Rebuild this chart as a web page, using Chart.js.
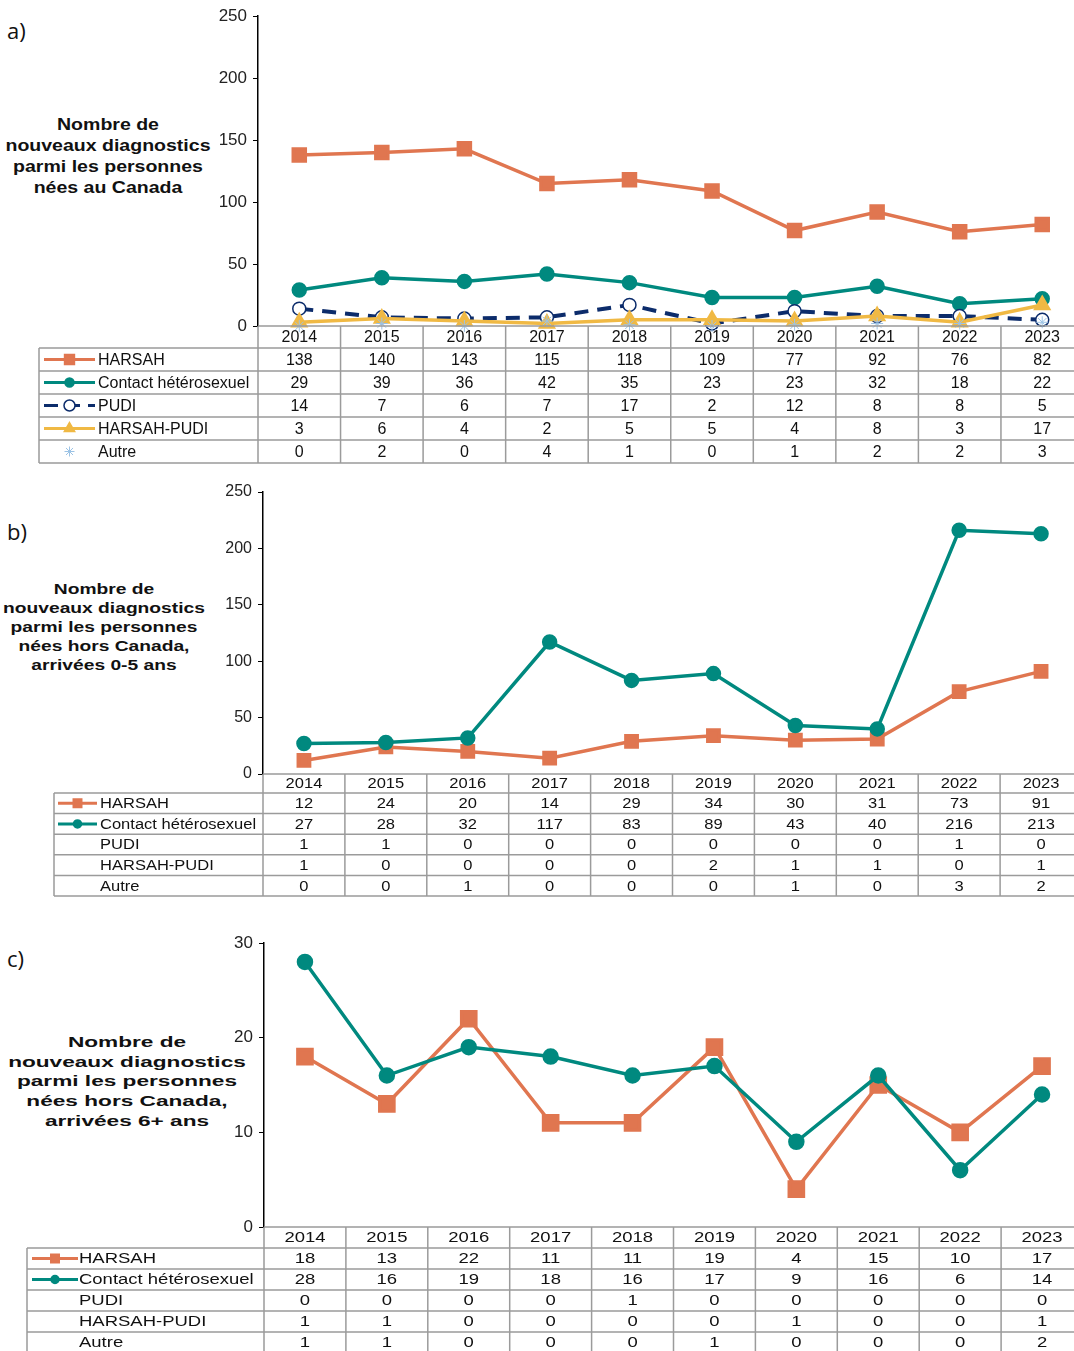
<!DOCTYPE html>
<html>
<head>
<meta charset="utf-8">
<script src="https://cdn.jsdelivr.net/npm/chart.js@4.4.1/dist/chart.umd.min.js"></script>
<style>
html, body { margin: 0; padding: 0; background: #fff; overflow: hidden; width: 1074px; height: 1351px; }
canvas { position: absolute; left: 0; }
.lettre { position: absolute; left: 7px; font: 22px "Open Sans", sans-serif; line-height: 30px; color: #111; }
.titre { position: absolute; left: 0; font-family: "Liberation Sans", Arial, sans-serif; font-weight: bold; text-align: center; white-space: nowrap; color: #111; }
</style>
</head>
<body>
<div class="lettre" style="top:15px">a)</div>
<div class="lettre" style="top:516px">b)</div>
<div class="lettre" style="top:943px">c)</div>

<div class="titre" style="top:114px;width:216px;font-size:16px;line-height:21px;transform:scaleX(1.22)">Nombre de<br>nouveaux diagnostics<br>parmi les personnes<br>nées au Canada</div>
<div class="titre" style="top:579px;width:208px;font-size:15.5px;line-height:19px;transform:scaleX(1.24)">Nombre de<br>nouveaux diagnostics<br>parmi les personnes<br>nées hors Canada,<br>arrivées 0-5 ans</div>
<div class="titre" style="top:1032px;width:254px;font-size:15.5px;line-height:19.7px;transform:scaleX(1.46)">Nombre de<br>nouveaux diagnostics<br>parmi les personnes<br>nées hors Canada,<br>arrivées 6+ ans</div>

<canvas id="grapheA" width="1090" height="475" style="top:0px"></canvas>
<canvas id="grapheB" width="1090" height="430" style="top:475px"></canvas>
<canvas id="grapheC" width="1090" height="446" style="top:905px"></canvas>

<script>
// Données
const annees = ['2014', '2015', '2016', '2017', '2018', '2019', '2020', '2021', '2022', '2023'];
const noms = ['HARSAH', 'Contact hétérosexuel', 'PUDI', 'HARSAH-PUDI', 'Autre'];

// a) nées au Canada
const canadaHarsah = [138, 140, 143, 115, 118, 109, 77, 92, 76, 82];
const canadaContact = [29, 39, 36, 42, 35, 23, 23, 32, 18, 22];
const canadaPudi = [14, 7, 6, 7, 17, 2, 12, 8, 8, 5];
const canadaHarsahPudi = [3, 6, 4, 2, 5, 5, 4, 8, 3, 17];
const canadaAutre = [0, 2, 0, 4, 1, 0, 1, 2, 2, 3];

// b) nées hors Canada, arrivées 0-5 ans
const recentHarsah = [12, 24, 20, 14, 29, 34, 30, 31, 73, 91];
const recentContact = [27, 28, 32, 117, 83, 89, 43, 40, 216, 213];
const recentPudi = [1, 1, 0, 0, 0, 0, 0, 0, 1, 0];
const recentHarsahPudi = [1, 0, 0, 0, 0, 2, 1, 1, 0, 1];
const recentAutre = [0, 0, 1, 0, 0, 0, 1, 0, 3, 2];

// c) nées hors Canada, arrivées 6+ ans
const ancienHarsah = [18, 13, 22, 11, 11, 19, 4, 15, 10, 17];
const ancienContact = [28, 16, 19, 18, 16, 17, 9, 16, 6, 14];
const ancienPudi = [0, 0, 0, 0, 1, 0, 0, 0, 0, 0];
const ancienHarsahPudi = [1, 1, 0, 0, 0, 0, 1, 0, 0, 1];
const ancienAutre = [1, 1, 0, 0, 0, 1, 0, 0, 0, 2];

const orange = '#E07650';
const sarcelle = '#00897F';
const marine = '#0C2C6B';
const jaune = '#F0B944';
const bleuPale = '#9CC3E5';

Chart.defaults.font.family = '"Liberation Sans", Arial, sans-serif';
Chart.defaults.color = '#222';

function dessinerSymbole(ctx, s, x0, x1, y) {
    ctx.save();
    ctx.strokeStyle = s.couleur;
    ctx.lineWidth = 3;
    if (!s.sansLigne) {
        if (s.tirets) ctx.setLineDash(s.tirets);
        ctx.beginPath();
        ctx.moveTo(x0, y);
        ctx.lineTo(x1, y);
        ctx.stroke();
        ctx.setLineDash([]);
    }
    ctx.fillStyle = s.remplissage || s.couleur;
    ctx.lineWidth = s.sansLigne ? 1 : 1.5;
    Chart.helpers.drawPoint(ctx, { pointStyle: s.forme, radius: s.rayon, rotation: 0, borderWidth: 1.5 }, (x0 + x1) / 2, y);
    ctx.restore();
}

// Tableau de données sous le graphique, aligné sur l'axe des x
function pluginTableau(t) {
    return {
        id: 'tableau',
        afterDraw(chart) {
            const { ctx, chartArea: ca } = chart;
            const x = chart.scales.x;
            const n = chart.data.labels.length;
            const pas = x.getPixelForValue(1) - x.getPixelForValue(0);
            const bord = i => x.getPixelForValue(i) - pas / 2;
            const droite = bord(n);
            const y0 = ca.bottom;
            const y1 = y0 + t.entete;
            const yFin = y1 + t.lignes.length * t.hauteur;

            ctx.save();
            ctx.strokeStyle = '#9b9b9b';
            ctx.lineWidth = 1.5;
            ctx.beginPath();
            ctx.moveTo(ca.left, y0);
            ctx.lineTo(droite, y0);
            for (let k = 0; k <= t.lignes.length; k++) {
                const yy = y1 + k * t.hauteur;
                ctx.moveTo(t.gauche, yy);
                ctx.lineTo(droite, yy);
            }
            for (let i = 0; i <= n; i++) {
                ctx.moveTo(bord(i), y0);
                ctx.lineTo(bord(i), yFin);
            }
            ctx.moveTo(t.gauche, y1);
            ctx.lineTo(t.gauche, yFin);
            ctx.stroke();

            ctx.fillStyle = '#111';
            ctx.font = t.taille + 'px "Liberation Sans", Arial, sans-serif';
            ctx.textBaseline = 'middle';
            const texte = (s, px, py, align) => {
                ctx.save();
                ctx.translate(px, py);
                ctx.scale(t.etirement, 1);
                ctx.textAlign = align;
                ctx.fillText(s, 0, 0);
                ctx.restore();
            };
            chart.data.labels.forEach((a, i) => texte(a, x.getPixelForValue(i), y0 + t.entete / 2 + 1, 'center'));
            t.lignes.forEach((l, k) => {
                const yy = y1 + (k + 0.5) * t.hauteur + 1;
                texte(l.nom, t.texteX, yy, 'left');
                l.valeurs.forEach((v, i) => texte(String(v), x.getPixelForValue(i), yy, 'center'));
                if (l.symbole) dessinerSymbole(ctx, l.symbole, t.symX0, t.symX1, yy - 1);
            });
            ctx.restore();
        }
    };
}

function creerGraphe(id, p) {
    const canvas = document.getElementById(id);
    return new Chart(canvas, {
        type: 'line',
        data: { labels: annees, datasets: p.datasets },
        options: {
            responsive: false,
            animation: false,
            layout: {
                autoPadding: false,
                padding: { left: 0, right: canvas.width - p.droite, top: p.haut, bottom: canvas.height - p.bas }
            },
            plugins: {
                legend: { display: false },
                tooltip: { enabled: false }
            },
            scales: {
                x: { display: false, offset: true },
                y: {
                    min: 0,
                    max: p.max,
                    ticks: { stepSize: p.pasY, padding: 6, font: { size: p.tailleTicks }, color: '#222' },
                    grid: { drawOnChartArea: false, tickLength: 5, color: '#000' },
                    border: { color: '#000', width: 1.5 },
                    afterFit: s => { s.width = p.axeX; }
                }
            }
        },
        plugins: [pluginTableau(p.tableau)]
    });
}

function serie(label, data, couleur, forme, rayon, ordre, extra) {
    return Object.assign({
        label: label,
        data: data,
        borderColor: couleur,
        backgroundColor: couleur,
        pointBackgroundColor: couleur,
        pointBorderColor: couleur,
        borderWidth: 3.5,
        pointStyle: forme,
        pointRadius: rayon,
        pointHoverRadius: rayon,
        tension: 0,
        clip: false,
        order: ordre
    }, extra || {});
}

const symHarsah = { couleur: orange, forme: 'rect', rayon: 7 };
const symContact = { couleur: sarcelle, forme: 'circle', rayon: 4.5 };

// a)
creerGraphe('grapheA', {
    axeX: 258, droite: 1083.5, haut: 14, bas: 326, max: 250, pasY: 50, tailleTicks: 17,
    datasets: [
        serie(noms[0], canadaHarsah, orange, 'rect', 8.5, 5),
        serie(noms[1], canadaContact, sarcelle, 'circle', 6, 4),
        serie(noms[2], canadaPudi, marine, 'circle', 6.5, 3, { borderDash: [14, 9], borderWidth: 4, pointBackgroundColor: '#fff', pointBorderWidth: 1.5 }),
        serie(noms[3], canadaHarsahPudi, jaune, 'triangle', 7, 2),
        serie(noms[4], canadaAutre, bleuPale, 'star', 6, 1, { showLine: false, pointBorderWidth: 1 })
    ],
    tableau: {
        gauche: 39, entete: 22, hauteur: 23, taille: 16, etirement: 1.0, symX0: 44, symX1: 95, texteX: 98,
        lignes: [
            { nom: noms[0], valeurs: canadaHarsah, symbole: symHarsah },
            { nom: noms[1], valeurs: canadaContact, symbole: symContact },
            { nom: noms[2], valeurs: canadaPudi, symbole: { couleur: marine, forme: 'circle', rayon: 5.5, remplissage: '#fff', tirets: [14, 8] } },
            { nom: noms[3], valeurs: canadaHarsahPudi, symbole: { couleur: jaune, forme: 'triangle', rayon: 6 } },
            { nom: noms[4], valeurs: canadaAutre, symbole: { couleur: bleuPale, forme: 'star', rayon: 5, sansLigne: true } }
        ]
    }
});

// b)
creerGraphe('grapheB', {
    axeX: 263, droite: 1082, haut: 17, bas: 299, max: 250, pasY: 50, tailleTicks: 16,
    datasets: [
        serie(noms[0], recentHarsah, orange, 'rect', 8, 2),
        serie(noms[1], recentContact, sarcelle, 'circle', 6, 1)
    ],
    tableau: {
        gauche: 54, entete: 19, hauteur: 20.6, taille: 14, etirement: 1.18, symX0: 58, symX1: 97, texteX: 100,
        lignes: [
            { nom: noms[0], valeurs: recentHarsah, symbole: { couleur: orange, forme: 'rect', rayon: 6 } },
            { nom: noms[1], valeurs: recentContact, symbole: { couleur: sarcelle, forme: 'circle', rayon: 4 } },
            { nom: noms[2], valeurs: recentPudi },
            { nom: noms[3], valeurs: recentHarsahPudi },
            { nom: noms[4], valeurs: recentAutre }
        ]
    }
});

// c)
creerGraphe('grapheC', {
    axeX: 264, droite: 1083, haut: 38, bas: 322, max: 30, pasY: 10, tailleTicks: 17,
    datasets: [
        serie(noms[0], ancienHarsah, orange, 'rect', 10, 2),
        serie(noms[1], ancienContact, sarcelle, 'circle', 6.5, 1)
    ],
    tableau: {
        gauche: 27, entete: 21, hauteur: 21, taille: 14, etirement: 1.32, symX0: 32, symX1: 78, texteX: 79,
        lignes: [
            { nom: noms[0], valeurs: ancienHarsah, symbole: { couleur: orange, forme: 'rect', rayon: 6 } },
            { nom: noms[1], valeurs: ancienContact, symbole: { couleur: sarcelle, forme: 'circle', rayon: 4 } },
            { nom: noms[2], valeurs: ancienPudi },
            { nom: noms[3], valeurs: ancienHarsahPudi },
            { nom: noms[4], valeurs: ancienAutre }
        ]
    }
});
</script>
</body>
</html>
